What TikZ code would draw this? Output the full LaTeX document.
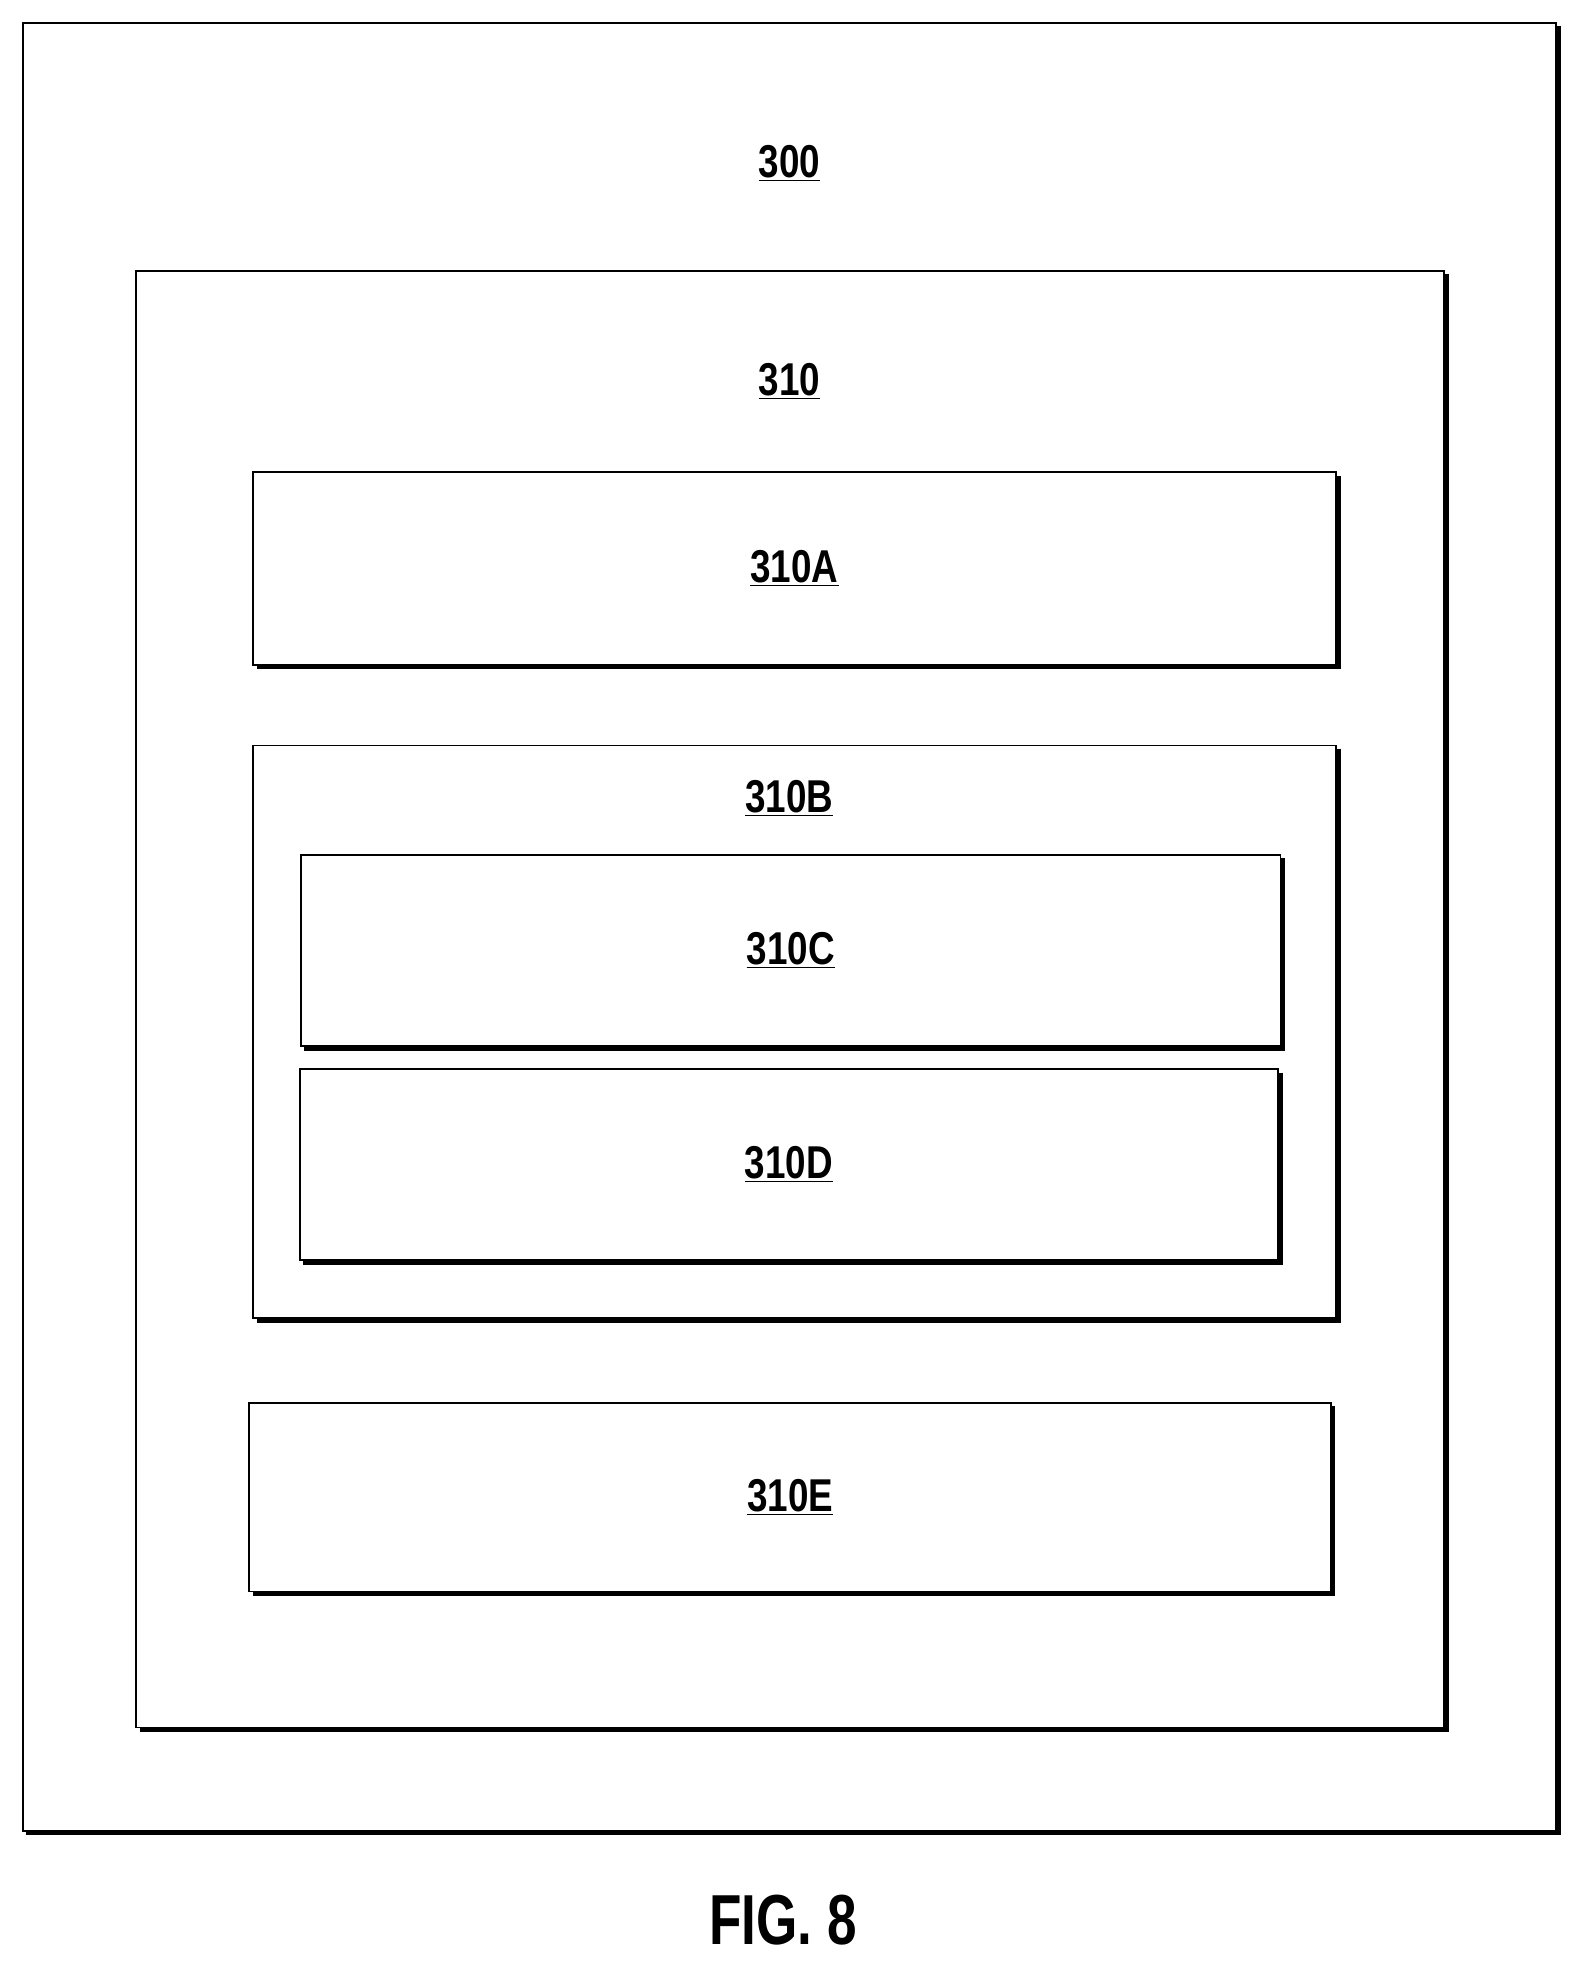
\documentclass[tikz,border=0pt]{standalone}
\usepackage{fontspec}
\setmainfont{Liberation Sans}
\usetikzlibrary{positioning}
\newcommand{\num}[1]{\underline{\textbf{#1}}}
\newcommand{\shadowit}[1]{\draw [line width=2.2pt] ([xshift=1.5pt,yshift=-2pt]#1.north east) -- ([xshift=1.5pt,yshift=-1.5pt]#1.south east) -- ([xshift=2pt,yshift=-1.5pt]#1.south west);}
\begin{document}
\begin{tikzpicture}[x=0.025cm,y=-0.025cm,every node/.style={outer sep=0pt}]
\tikzset{box/.style={draw,line width=1pt,inner sep=0pt,anchor=north west},
 lbl/.style={font=\fontsize{26}{28}\selectfont,xscale=0.8}}
\useasboundingbox (0,0) rectangle (1255,1567);
%
\node (b300) [box,minimum width=1218*0.025cm,minimum height=1436*0.025cm] at (18,18) {};
\node (b310) [box,minimum width=1039*0.025cm,minimum height=1157*0.025cm] at (108,215) {};
\node (b310A) [box,minimum width=860*0.025cm,minimum height=153*0.025cm] at (201,375) {};
\node (b310B) [box,minimum width=860*0.025cm,minimum height=455*0.025cm] at (201,592) {};
\node (b310C) [box,minimum width=778*0.025cm,minimum height=152*0.025cm] at (239,679) {};
\node (b310D) [box,minimum width=777*0.025cm,minimum height=152*0.025cm] at (238,849) {};
\node (b310E) [box,minimum width=859*0.025cm,minimum height=150*0.025cm] at (198,1114) {};
\foreach \b in {b300,b310,b310A,b310B,b310C,b310D,b310E} {\shadowit{\b}}
%
\node (t300) [lbl] at (627,130) {\num{300}};
\node (t310) [lbl] at (627,303) {\num{310}};
\node (t310A) [lbl] at (b310A.center) {\num{310A}};
\node (t310B) [lbl] at (627,634) {\num{310B}};
\node (t310C) [lbl] at (b310C.center) {\num{310C}};
\node (t310D) [lbl] at (b310D.center) {\num{310D}};
\node (t310E) [lbl] at (b310E.center) {\num{310E}};
\node (fig) [font=\fontsize{40}{42}\selectfont\bfseries,xscale=0.75] at (622,1525) {FIG. 8};
\end{tikzpicture}
\end{document}
